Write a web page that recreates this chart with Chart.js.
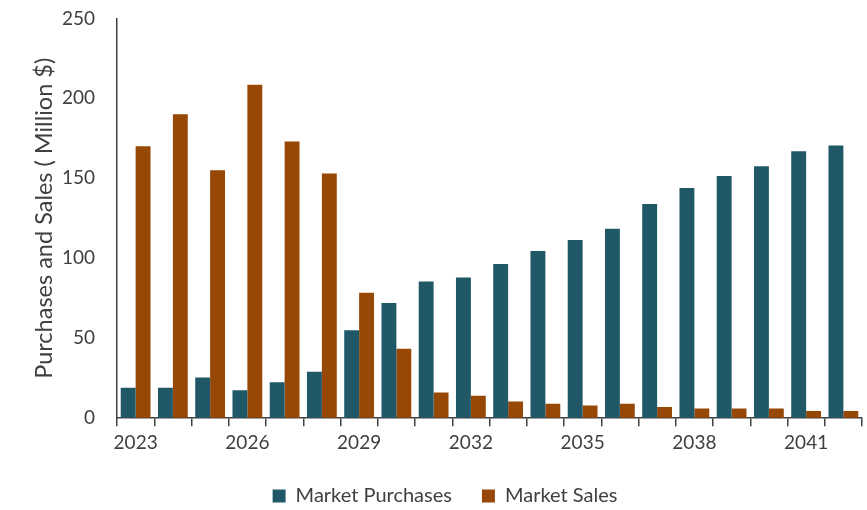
<!DOCTYPE html>
<html>
<head>
<meta charset="utf-8">
<script src="https://cdn.jsdelivr.net/npm/chart.js@4.4.1/dist/chart.umd.min.js"></script>
<style>
    html, body {
        margin: 0;
        padding: 0;
        background: #ffffff;
    }

    #wrap {
        width: 867px;
        height: 510px;
        position: relative;
    }
</style>
</head>
<body>
<div id="wrap">
    <canvas id="marketChart"></canvas>
</div>
<script>

    /*
     * Data
     */

    const years = [
        "2023", "2024", "2025", "2026", "2027",
        "2028", "2029", "2030", "2031", "2032",
        "2033", "2034", "2035", "2036", "2037",
        "2038", "2039", "2040", "2041", "2042"
    ];

    const marketPurchases = [
        19, 19, 25.5, 17.5, 22.5,
        29, 55, 72, 85.5, 88,
        96.5, 104.5, 111.5, 118.5, 134,
        144, 151.5, 157.5, 167, 170.5
    ];

    const marketSales = [
        170, 190, 155, 208.5, 173,
        153, 78.5, 43.5, 16, 14,
        10.5, 9, 8, 9, 7,
        6, 6, 6, 4.5, 4.5
    ];

    const yTicks = [0, 50, 100, 150, 200, 250];

    const textColor = "#404040";
    const axisColor = "#404040";
    const fontFamily = "Lato, 'Open Sans', sans-serif";

    document.addEventListener(

        "DOMContentLoaded",

        () => {

            const canvas =
                document.getElementById(
                    "marketChart"
                );

            new Chart(

                canvas,

                {

                    type: "bar",

                    data: {

                        labels: years,

                        datasets: [

                            {
                                label: "Market Purchases",
                                data: marketPurchases,
                                backgroundColor: "#205867",
                                categoryPercentage: 0.8,
                                barPercentage: 1.0
                            },

                            {
                                label: "Market Sales",
                                data: marketSales,
                                backgroundColor: "#974706",
                                categoryPercentage: 0.8,
                                barPercentage: 1.0
                            }

                        ]

                    },

                    options: {

                        responsive: true,
                        maintainAspectRatio: false,
                        animation: false,

                        layout: {
                            padding: {
                                top: 0,
                                right: 5,
                                bottom: -6,
                                left: 28
                            }
                        },

                        plugins: {

                            tooltip: {
                                enabled: false
                            },

                            legend: {
                                position: "bottom",
                                labels: {
                                    color: textColor,
                                    boxWidth: 13,
                                    boxHeight: 13,
                                    padding: 30,
                                    font: {
                                        family: fontFamily,
                                        size: 20
                                    }
                                }
                            }

                        },

                        scales: {

                            x: {
                                offset: true,
                                border: {
                                    display: true,
                                    color: axisColor,
                                    width: 1.5
                                },
                                grid: {
                                    offset: true,
                                    drawOnChartArea: false,
                                    drawTicks: true,
                                    tickLength: 8,
                                    color: axisColor,
                                    lineWidth: 1.5
                                },
                                ticks: {
                                    autoSkip: false,
                                    maxRotation: 0,
                                    padding: 5,
                                    color: textColor,
                                    font: {
                                        family: fontFamily,
                                        size: 19
                                    },
                                    callback: function (value, index) {
                                        return index % 3 === 0
                                            ? this.getLabelForValue(value)
                                            : "";
                                    }
                                },
                                afterFit: scale => {
                                    scale.height -= 3;
                                }
                            },

                            y: {
                                min: yTicks[0],
                                max: yTicks[yTicks.length - 1],
                                border: {
                                    display: true,
                                    color: axisColor,
                                    width: 1.5
                                },
                                // invisible tick marks keep the labels clear of the axis
                                grid: {
                                    display: true,
                                    drawOnChartArea: false,
                                    drawTicks: true,
                                    tickLength: 15,
                                    color: "rgba(0,0,0,0)"
                                },
                                ticks: {
                                    stepSize: 50,
                                    padding: 7,
                                    color: textColor,
                                    font: {
                                        family: fontFamily,
                                        size: 19
                                    }
                                },
                                title: {
                                    display: true,
                                    text: "Purchases and Sales ( Million $)",
                                    color: textColor,
                                    padding: { top: 2, bottom: 0 },
                                    font: {
                                        family: fontFamily,
                                        size: 23.5
                                    }
                                },
                                afterFit: scale => {
                                    scale.width = 89;
                                }
                            }

                        }

                    }

                }

            );

        }

    );

</script>
</body>
</html>
